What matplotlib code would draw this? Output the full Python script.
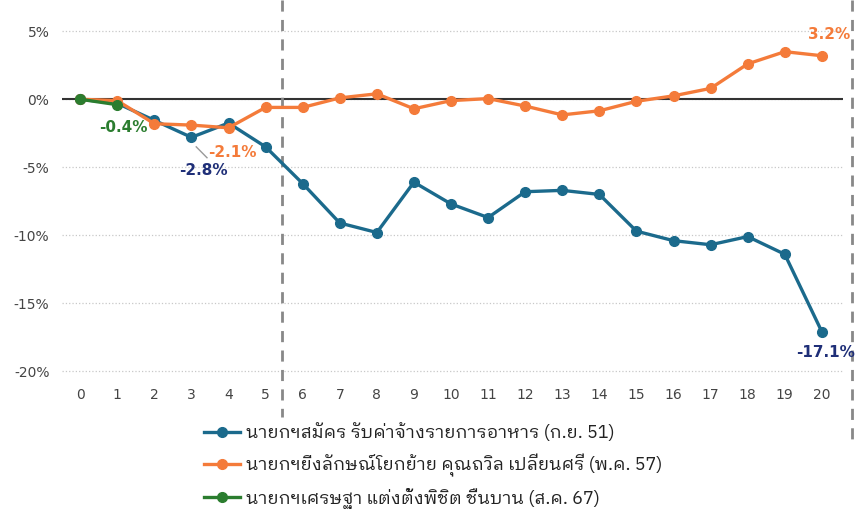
import matplotlib
matplotlib.use("Agg")
import matplotlib.pyplot as plt
from matplotlib import font_manager
from matplotlib.ft2font import FT2Font

# find a font with Thai glyphs (prefer looped designs)
thai_fonts = []
for f in font_manager.fontManager.ttflist:
    try:
        cm = FT2Font(f.fname).get_charmap()
        if 0x0E01 in cm and 0x0E2A in cm:
            thai_fonts.append(f.name)
    except Exception:
        pass
pref = ['Looped', 'Loma', 'Garuda', 'Tahoma', 'Leelawadee', 'Sarabun', 'Norasi', 'Sans']
thai_family = None
for p in pref:
    for n in thai_fonts:
        if p in n:
            thai_family = n
            break
    if thai_family:
        break
if not thai_family and thai_fonts:
    thai_family = thai_fonts[0]
fams = ([thai_family] if thai_family else []) + ['DejaVu Sans']
plt.rcParams['font.family'] = fams

months = list(range(21))
samak = [0, -0.3, -1.55, -2.8, -1.75, -3.5, -6.2, -9.1, -9.8, -6.1, -7.7, -8.7,
         -6.8, -6.7, -7.0, -9.7, -10.4, -10.7, -10.1, -11.4, -17.1]
yingluck = [0, -0.1, -1.8, -1.9, -2.1, -0.6, -0.6, 0.1, 0.4, -0.7, -0.1, 0.05,
            -0.5, -1.15, -0.85, -0.15, 0.25, 0.8, 2.6, 3.5, 3.2]
srettha = [0, -0.4]
names = ["นายกฯสมัคร รับค่าจ้างรายการอาหาร (ก.ย. 51)",
         "นายกฯยิ่งลักษณ์โยกย้าย คุณถวิล เปลี่ยนศรี (พ.ค. 57)",
         "นายกฯเศรษฐา แต่งตั้งพิชิต ชื่นบาน (ส.ค. 67)"]
yticks = [5, 0, -5, -10, -15, -20]
ytick_labels = ["5%", "0%", "-5%", "-10%", "-15%", "-20%"]

c_blue = "#1b6a8c"
c_orange = "#f47b3a"
c_green = "#2b7d2f"
c_navy = "#1f2f78"

fig = plt.figure(figsize=(8.58, 5.17), dpi=100)
ax = fig.add_axes([62/858, 1-378/517, (843-62)/858, 378/517])
ax.set_xlim(-0.49, 20.57)
ax.set_ylim(-20.5, 7.3)

ax.plot(months, samak, color=c_blue, lw=2.4, marker='o', ms=7, zorder=3, label=names[0])
ax.plot(months, yingluck, color=c_orange, lw=2.4, marker='o', ms=7, zorder=4, label=names[1])
ax.plot(months[:2], srettha, color=c_green, lw=2.4, marker='o', ms=7, zorder=5, label=names[2])

ax.axhline(0, color='#333333', lw=1.5, zorder=2)
ax.set_yticks(yticks)
ax.set_yticklabels(ytick_labels)
ax.set_xticks(months)
ax.grid(axis='y', color='#c8c8c8', ls=':', lw=0.9, zorder=1)
for s in ax.spines.values():
    s.set_visible(False)
ax.tick_params(axis='both', length=0, colors='#444444', labelsize=10)
ax.tick_params(axis='y', pad=9)
ax.tick_params(axis='x', pad=7)
for lab in ax.get_xticklabels() + ax.get_yticklabels():
    lab.set_family('DejaVu Sans')

# dashed vertical markers
for xv, ybot in [(5.44, -23.4), (20.8, -25.6)]:
    ax.plot([xv, xv], [7.3, ybot], color='#888888', ls=(0, (4, 3)), lw=2,
            clip_on=False, zorder=2)

# annotations
ax.text(1.16, -2.06, "-0.4%", color=c_green, fontsize=11, fontweight='bold',
        ha='center', va='center', family='DejaVu Sans')
ax.text(4.1, -3.9, "-2.1%", color=c_orange, fontsize=11, fontweight='bold',
        ha='center', va='center', family='DejaVu Sans')
ax.text(3.32, -5.22, "-2.8%", color=c_navy, fontsize=11, fontweight='bold',
        ha='center', va='center', family='DejaVu Sans')
ax.plot([3.13, 3.42], [-3.5, -4.3], color='#999999', lw=1, zorder=2)
ax.text(20.2, 4.78, "3.2%", color=c_orange, fontsize=11, fontweight='bold',
        ha='center', va='center', family='DejaVu Sans')
ax.text(20.1, -18.6, "-17.1%", color=c_navy, fontsize=11, fontweight='bold',
        ha='center', va='center', family='DejaVu Sans')

leg = fig.legend(loc='upper left', bbox_to_anchor=(188/858, 1-407/517), frameon=False,
                 fontsize=13, handlelength=2.0, handletextpad=0.3, labelspacing=0.62,
                 labelcolor='#222222')

fig.savefig("out.png", dpi=100, facecolor='white')
